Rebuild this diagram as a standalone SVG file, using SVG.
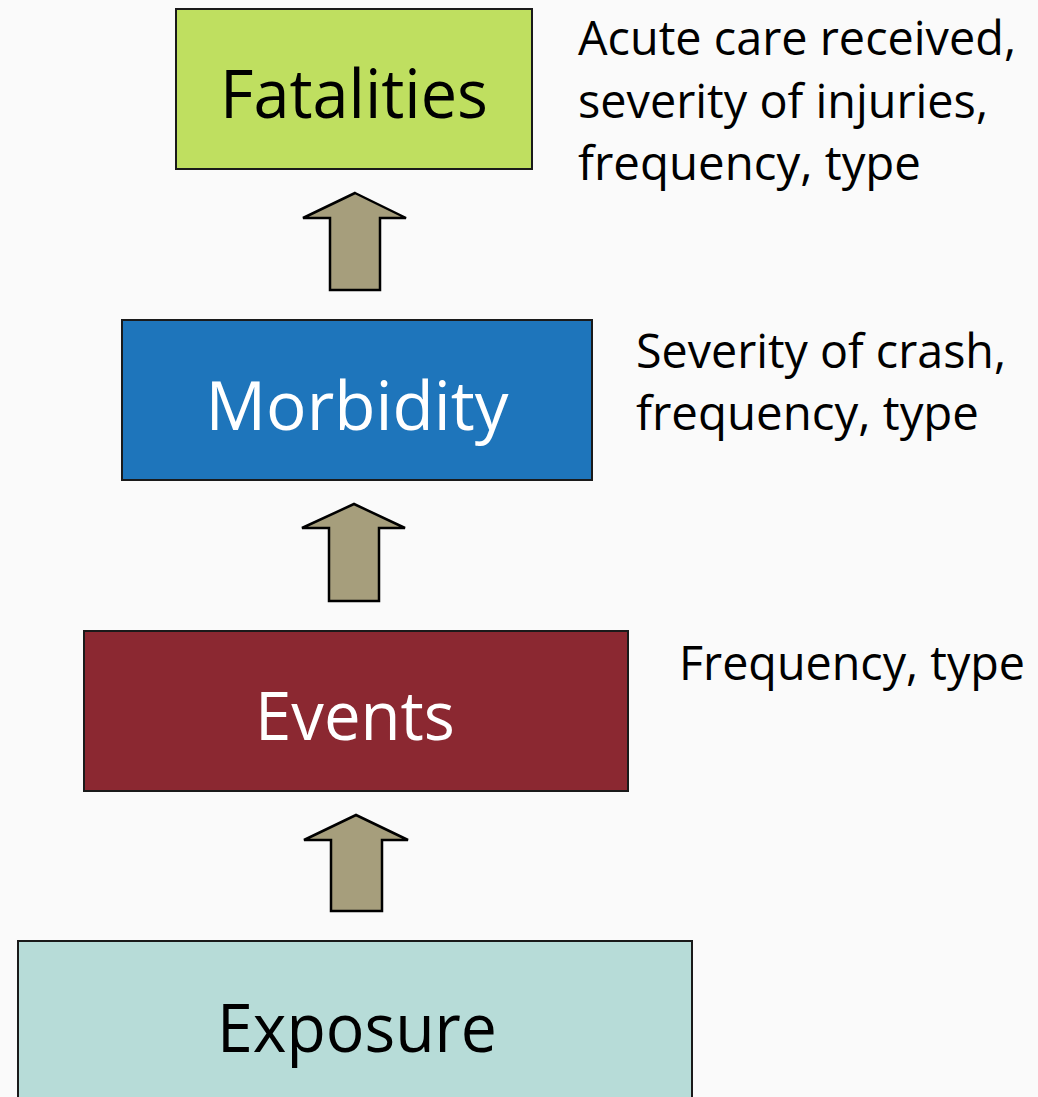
<svg xmlns="http://www.w3.org/2000/svg" width="1038" height="1097" viewBox="0 0 1038 1097">
<style>
.box{stroke:#1a1a1a;stroke-width:2}
.lbl{font-family:"Open Sans","Noto Sans",sans-serif;font-size:68px;text-anchor:middle}
.side{font-family:"Open Sans","Noto Sans",sans-serif;font-size:47px;fill:#000}
.arr{fill:#a69e7c;stroke:#000;stroke-width:2.5;stroke-linejoin:miter}
</style>
<rect width="1038" height="1097" fill="#fafafa"/>
<g id="fatalities">
<rect class="box" x="176" y="9" width="356" height="160" fill="#bfdf60"/>
<text class="lbl" x="354" y="118" fill="#000" textLength="268" lengthAdjust="spacingAndGlyphs">Fatalities</text>
</g>
<g id="morbidity">
<rect class="box" x="122" y="320" width="470" height="160" fill="#1e75bb"/>
<text class="lbl" x="357" y="430" fill="#fff" textLength="303" lengthAdjust="spacingAndGlyphs">Morbidity</text>
</g>
<g id="events">
<rect class="box" x="84" y="631" width="544" height="160" fill="#8b2831"/>
<text class="lbl" x="355" y="740" fill="#fff" textLength="200" lengthAdjust="spacingAndGlyphs">Events</text>
</g>
<g id="exposure">
<rect class="box" x="18" y="941" width="674" height="170" fill="#b7dcd8"/>
<text class="lbl" x="357" y="1052" fill="#000" textLength="280" lengthAdjust="spacingAndGlyphs">Exposure</text>
</g>
<g id="notes">
<text class="side" x="578" y="55" textLength="438" lengthAdjust="spacingAndGlyphs">Acute care received,</text>
<text class="side" x="578" y="118" textLength="410" lengthAdjust="spacingAndGlyphs">severity of injuries,</text>
<text class="side" x="578" y="180" textLength="343" lengthAdjust="spacingAndGlyphs">frequency, type</text>
<text class="side" x="636" y="368" textLength="370" lengthAdjust="spacingAndGlyphs">Severity of crash,</text>
<text class="side" x="636" y="430" textLength="343" lengthAdjust="spacingAndGlyphs">frequency, type</text>
<text class="side" x="679" y="680" textLength="346" lengthAdjust="spacingAndGlyphs">Frequency, type</text>
</g>
<g id="connectors">
<polygon class="arr" points="355,193 406,218 380,218 380,290 330,290 330,218 303,218"/>
<polygon class="arr" points="354,504 405,528 379,528 379,601 329,601 329,528 302,528"/>
<polygon class="arr" points="356,815 408,840 382,840 382,911 331,911 331,840 304,840"/>
</g>
</svg>
